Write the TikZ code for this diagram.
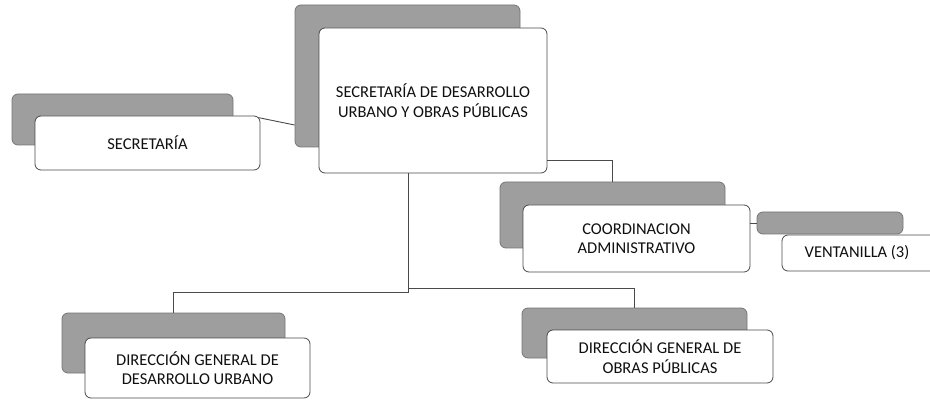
\documentclass[tikz,border=0pt]{standalone}
\usepackage{fontspec}
\setmainfont{Carlito}
\definecolor{backgray}{HTML}{9E9E9E}
\definecolor{backedge}{HTML}{767676}
\definecolor{frontedge}{HTML}{4A4A4A}
\definecolor{inkc}{HTML}{101010}
\tikzset{
  backbox/.style={draw=backedge, fill=backgray, line width=0.8pt, rounded corners=6pt, inner sep=0pt},
  frontbox/.style={draw=frontedge, fill=white, line width=0.8pt, rounded corners=6pt, inner sep=0pt,
    align=center, text=inkc, font=\fontsize{16.5}{19.5}\selectfont},
  link/.style={draw=frontedge, line width=0.9pt}
}
\begin{document}
\begin{tikzpicture}[x=1pt,y=1pt]
\useasboundingbox (0,0) rectangle (930,-401);
\fill[white] (0,0) rectangle (930,-401);
% back boxes
\node[backbox, minimum width=225pt, minimum height=142pt] (topg) at (407.5,-76) {};
\node[backbox, minimum width=221pt, minimum height=51pt] (secg) at (122.5,-119.5) {};
\node[backbox, minimum width=225pt, minimum height=66pt] (coordg) at (612.5,-215) {};
\node[backbox, minimum width=146pt, minimum height=22pt] (ventg) at (830,-223) {};
\node[backbox, minimum width=223pt, minimum height=60pt] (dgdug) at (173.5,-343) {};
\node[backbox, minimum width=225pt, minimum height=50pt] (dgopg) at (634.5,-333) {};
% front boxes
\node[frontbox, minimum width=228pt, minimum height=145pt] (topw) at (433,-100.5) {SECRETARÍA DE DESARROLLO\\URBANO Y OBRAS PÚBLICAS};
\node[frontbox, minimum width=225pt, minimum height=54pt] (secw) at (147.5,-143) {SECRETARÍA};
\node[frontbox, minimum width=227pt, minimum height=67pt] (coordw) at (636.5,-238.5) {COORDINACION\\ADMINISTRATIVO};
\node[frontbox, minimum width=164pt, minimum height=36pt] (ventw) at (864,-253) {VENTANILLA (3)\kern14pt};
\node[frontbox, minimum width=225pt, minimum height=60pt] (dgduw) at (197.5,-368) {DIRECCIÓN GENERAL DE\\DESARROLLO URBANO};
\node[frontbox, minimum width=226pt, minimum height=53pt] (dgopw) at (660,-356.5) {DIRECCIÓN GENERAL DE\\OBRAS PÚBLICAS};
% connectors
\coordinate (trunk) at ([xshift=-25pt]topw.south);
\coordinate (jl) at ([yshift=-119pt]trunk);
\coordinate (jr) at ([yshift=-115pt]trunk);
\draw[link] (trunk) -- (jl) -| (dgdug.north);
\draw[link] (jr) -| (dgopg.north);
\draw[link] ([yshift=-59.5pt]topw.east) -| (coordg.north);
\draw[link] ([xshift=-2pt,yshift=-2pt]secw.north east) -- ([yshift=-49pt]topg.west);
\draw[link] (ventg.west -| coordw.east) -- (ventg.west);
\end{tikzpicture}
\end{document}
